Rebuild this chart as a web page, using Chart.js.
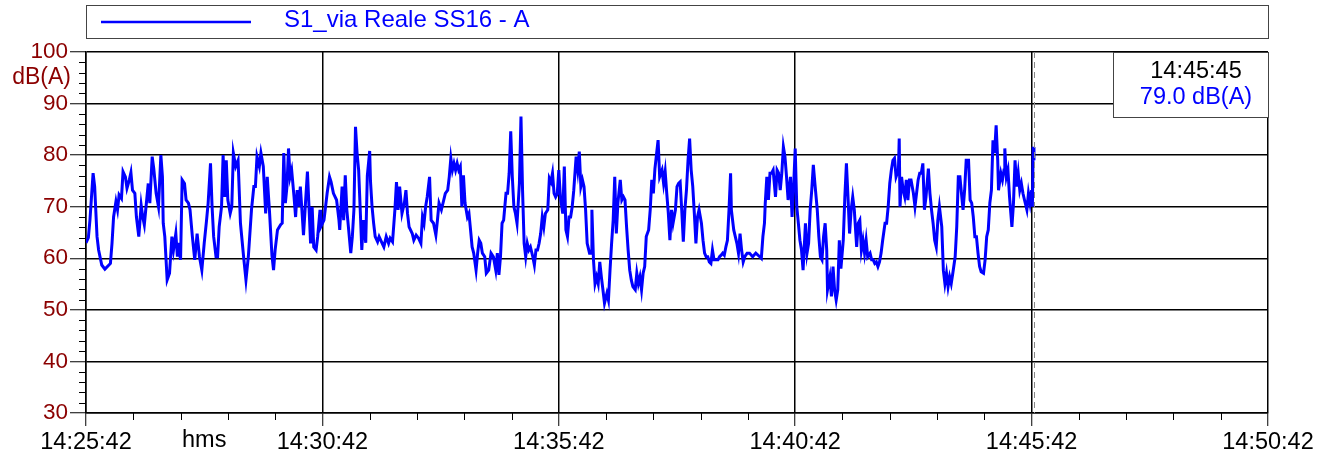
<!DOCTYPE html>
<html>
<head>
<meta charset="utf-8">
<script src="https://cdn.jsdelivr.net/npm/chart.js@4.4.0/dist/chart.umd.min.js"></script>
<style>
  html, body { margin: 0; padding: 0; background: #fff; }
  canvas { display: block; }
</style>
</head>
<body>
<canvas id="noiseChart" width="1326" height="457"></canvas>
<script>
// start of the record: 14:25:42
const startClock = 14 * 3600 + 25 * 60 + 42;
const seriesName = 'S1_via Reale SS16 - A';
const unit = 'dB(A)';
const xLabelUnit = 'hms';
const yMin = 30, yMax = 100;
const xSpan = 1500; // 25 minutes shown

// seconds after 14:25:42, level in dB(A)
const secs = [
  0, 3, 5, 9, 11, 14, 16, 20, 24, 31, 33, 35, 38, 40, 42, 45, 47, 50, 52, 55, 57, 59, 62, 64, 67, 70, 72, 74, 77, 79,
  81, 84, 86, 89, 92, 95, 97, 98, 100, 103, 106, 109, 111, 114, 116, 117, 120, 122, 125, 127, 130, 132, 135, 138, 141, 144, 147, 150, 153, 155,
  158, 160, 162, 165, 167, 169, 172, 174, 176, 178, 180, 183, 185, 187, 190, 193, 196, 200, 203, 206, 210, 213, 215, 217, 220, 222, 225, 228, 230, 233,
  236, 238, 240, 243, 247, 249, 251, 253, 255, 257, 259, 261, 264, 266, 268, 270, 272, 274, 276, 278, 281, 283, 285, 287, 289, 292, 294, 297, 298, 302,
  304, 306, 309, 311, 314, 318, 321, 322, 325, 327, 329, 331, 333, 336, 338, 340, 342, 344, 346, 348, 350, 352, 355, 357, 360, 361, 363, 365, 367, 370,
  372, 375, 378, 381, 384, 386, 389, 392, 394, 396, 398, 401, 404, 406, 408, 410, 414, 416, 419, 422, 425, 427, 429, 431, 433, 436, 438, 441, 444, 446,
  448, 451, 454, 456, 459, 461, 463, 465, 467, 469, 471, 473, 475, 477, 479, 481, 484, 486, 488, 490, 492, 495, 497, 499, 501, 503, 506, 508, 511, 514,
  517, 520, 522, 524, 526, 528, 530, 533, 535, 537, 539, 541, 543, 545, 547, 550, 552, 554, 556, 558, 560, 562, 564, 567, 569, 571, 573, 575, 577, 579,
  581, 583, 586, 588, 590, 592, 594, 596, 598, 600, 602, 605, 607, 609, 611, 613, 615, 617, 619, 622, 624, 626, 628, 630, 632, 634, 636, 639, 641, 642,
  644, 646, 648, 650, 652, 654, 656, 658, 661, 663, 665, 667, 669, 671, 673, 675, 678, 680, 682, 684, 686, 688, 690, 692, 694, 697, 699, 701, 703, 705,
  707, 709, 711, 714, 716, 718, 720, 722, 726, 728, 731, 733, 735, 737, 739, 741, 743, 745, 748, 750, 752, 754, 756, 758, 760, 762, 764, 766, 768, 770,
  772, 774, 776, 778, 781, 783, 785, 787, 789, 791, 793, 795, 797, 800, 802, 804, 806, 808, 810, 812, 814, 816, 818, 819, 822, 824, 826, 828, 830, 832,
  834, 836, 839, 842, 846, 850, 855, 857, 859, 861, 862, 864, 866, 868, 870, 872, 875, 877, 879, 881, 883, 885, 887, 889, 891, 894, 896, 898, 900, 902,
  904, 906, 908, 910, 913, 915, 917, 919, 921, 923, 925, 928, 930, 932, 934, 936, 938, 940, 941, 944, 946, 948, 950, 952, 954, 956, 958, 961, 963, 965,
  967, 969, 971, 973, 975, 978, 980, 982, 984, 986, 988, 990, 992, 995, 997, 999, 1001, 1003, 1005, 1007, 1009, 1011, 1014, 1016, 1018, 1020, 1022, 1024, 1026, 1028,
  1031, 1032, 1033, 1035, 1037, 1039, 1041, 1043, 1045, 1047, 1050, 1052, 1054, 1056, 1058, 1060, 1062, 1064, 1066, 1069, 1071, 1073, 1075, 1077, 1079, 1081, 1083, 1086, 1088, 1090,
  1092, 1094, 1096, 1098, 1100, 1103, 1105, 1107, 1109, 1111, 1113, 1115, 1117, 1120, 1122, 1124, 1126, 1128, 1130, 1132, 1134, 1136, 1139, 1141, 1143, 1145, 1147, 1149, 1151, 1153,
  1155, 1157, 1158, 1161, 1163, 1165, 1166, 1168, 1170, 1172, 1175, 1177, 1179, 1181, 1183, 1185, 1187, 1189, 1191, 1194, 1196, 1198, 1200, 1201, 1202, 1203
];
const dbA = [
  63.0, 64.0, 67.4, 76.5, 73.9, 64.2, 61.6, 58.7, 57.9, 59.0, 62.9, 68.0, 71.0, 69.4, 72.3, 71.6, 76.8, 75.8, 73.6, 75.2, 76.6, 73.2, 72.6, 68.0, 64.2, 70.3, 68.0, 66.5, 71.3, 74.5,
  70.7, 79.7, 77.4, 72.6, 70.0, 80.0, 75.8, 66.8, 64.2, 55.8, 57.1, 64.2, 61.6, 64.8, 60.3, 63.0, 59.7, 75.2, 74.5, 71.3, 70.7, 69.4, 64.2, 59.7, 64.8, 60.3, 57.7, 62.9, 67.4, 70.7,
  78.4, 70.0, 64.2, 60.3, 60.3, 66.1, 70.0, 80.0, 71.9, 79.0, 71.3, 68.7, 70.0, 80.4, 77.8, 79.0, 66.8, 60.3, 55.8, 60.3, 69.4, 73.9, 73.9, 79.7, 77.8, 80.4, 77.8, 68.7, 75.8, 68.7,
  60.5, 57.7, 61.6, 65.5, 66.5, 66.8, 80.4, 70.7, 73.9, 81.3, 75.8, 77.1, 71.9, 68.0, 73.2, 70.0, 73.9, 69.4, 64.5, 69.4, 76.8, 70.0, 62.9, 70.0, 62.2, 61.6, 64.2, 69.4, 66.1, 67.4,
  70.0, 72.6, 75.8, 74.8, 72.6, 71.3, 67.4, 65.5, 73.9, 67.4, 76.1, 69.4, 66.1, 61.0, 64.2, 69.4, 85.5, 80.4, 77.1, 69.4, 61.6, 67.4, 63.0, 76.0, 80.8, 75.0, 70.0, 66.8, 64.2, 63.2,
  64.2, 63.2, 62.2, 64.2, 62.9, 63.9, 63.2, 69.4, 74.8, 69.4, 73.9, 68.7, 70.7, 73.2, 68.7, 66.1, 64.8, 63.5, 64.5, 63.9, 62.9, 68.0, 66.8, 70.0, 71.9, 75.8, 67.4, 66.8, 64.5, 67.4,
  70.7, 69.4, 71.3, 72.6, 73.2, 75.8, 79.4, 77.1, 78.4, 77.1, 78.4, 77.1, 77.8, 70.0, 76.1, 70.7, 68.0, 68.7, 65.5, 62.2, 61.0, 57.7, 61.0, 63.5, 62.9, 61.0, 60.3, 57.1, 57.7, 61.0,
  60.3, 57.7, 61.0, 56.8, 60.3, 66.8, 67.4, 72.6, 72.6, 76.5, 84.6, 75.8, 70.0, 68.7, 66.8, 74.5, 87.5, 73.2, 62.9, 60.3, 62.9, 61.6, 62.2, 60.3, 58.7, 61.6, 61.6, 62.9, 64.8, 68.0,
  66.1, 68.7, 69.4, 75.5, 74.8, 76.5, 72.6, 71.9, 72.5, 77.1, 71.9, 68.7, 77.8, 65.5, 64.2, 68.0, 68.0, 70.0, 73.2, 79.7, 77.1, 80.7, 73.9, 75.2, 73.9, 69.4, 62.9, 61.0, 61.0, 69.4,
  59.7, 55.1, 56.4, 55.1, 59.3, 56.4, 53.9, 51.3, 53.2, 51.9, 57.7, 62.9, 67.4, 75.8, 64.8, 70.7, 75.2, 71.3, 71.9, 71.3, 66.1, 61.6, 57.7, 55.8, 54.5, 53.9, 57.1, 55.1, 56.4, 53.9,
  57.1, 58.4, 64.2, 65.5, 69.4, 75.2, 72.6, 77.4, 82.9, 75.8, 77.1, 74.5, 76.8, 72.6, 68.7, 63.5, 69.4, 66.8, 69.4, 73.9, 74.5, 74.8, 69.4, 63.2, 69.4, 73.2, 79.0, 83.2, 77.1, 73.9,
  68.7, 62.9, 68.0, 69.4, 66.8, 63.5, 61.0, 60.3, 60.3, 59.3, 59.0, 61.6, 59.7, 59.7, 59.7, 60.3, 60.6, 61.0, 60.6, 62.2, 63.5, 69.4, 76.5, 69.4, 65.5, 64.2, 62.9, 61.0, 64.8, 61.6,
  59.3, 60.3, 61.0, 61.0, 60.3, 61.0, 60.3, 60.0, 64.2, 66.8, 70.7, 75.8, 71.3, 76.5, 76.5, 77.1, 71.9, 77.1, 76.5, 73.2, 76.5, 81.6, 79.7, 75.8, 71.3, 75.8, 68.0, 73.9, 81.3, 70.0,
  66.8, 63.5, 61.6, 57.7, 66.8, 61.0, 62.9, 69.4, 73.2, 78.1, 74.5, 69.4, 64.2, 60.3, 59.7, 64.2, 66.8, 61.6, 53.9, 56.4, 52.6, 58.4, 53.9, 51.9, 53.9, 63.5, 58.0, 63.5, 71.9, 78.4,
  71.9, 64.8, 69.4, 71.9, 69.4, 62.2, 66.8, 67.4, 61.6, 63.5, 61.0, 63.5, 60.3, 61.0, 59.7, 59.7, 59.0, 59.3, 58.4, 59.3, 61.0, 63.5, 66.8, 66.8, 70.0, 74.5, 77.1, 79.0, 79.4, 75.8,
  77.1, 83.2, 70.0, 75.8, 73.2, 71.9, 75.2, 71.3, 75.2, 75.2, 72.6, 70.0, 72.6, 75.2, 76.5, 76.5, 78.4, 69.4, 71.9, 77.4, 72.6, 69.4, 66.8, 63.5, 62.2, 67.4, 70.0, 66.1, 57.7, 55.1,
  57.1, 54.5, 56.4, 55.1, 57.1, 60.3, 66.1, 75.8, 75.8, 72.6, 69.4, 73.2, 79.0, 79.0, 71.3, 70.7, 68.0, 64.2, 64.2, 61.0, 58.4, 57.4, 57.1, 59.7, 64.2, 65.5, 70.7, 73.2, 82.9, 80.4,
  85.8, 79.0, 73.2, 76.5, 75.2, 77.1, 81.3, 75.8, 77.1, 71.9, 66.1, 70.7, 79.0, 73.9, 76.5, 73.2, 74.5, 72.6, 71.3, 69.4, 72.6, 70.7, 73.2, 70.0, 81.6, 79.0
];

function clock(t) {
  const s = startClock + Math.round(t);
  const p = n => String(n).padStart(2, '0');
  return p(Math.floor(s / 3600)) + ':' + p(Math.floor(s / 60) % 60) + ':' + p(s % 60);
}

const fontFamily = '"Liberation Sans", Arial, sans-serif';
Chart.defaults.font.family = fontFamily;

const extras = {
  id: 'extras',
  afterDraw(chart) {
    const { ctx, chartArea: a, scales: { x, y } } = chart;
    const last = secs.length - 1;
    ctx.save();

    // minor ticks
    ctx.strokeStyle = '#000';
    ctx.lineWidth = 1;
    ctx.beginPath();
    for (let v = yMin; v <= yMax; v += 2) {
      if (v % 10 === 0) continue;
      const py = Math.round(y.getPixelForValue(v)) + 0.5;
      ctx.moveTo(a.left - 7, py); ctx.lineTo(a.left, py);
    }
    for (let t = 60; t < xSpan; t += 60) {
      if (t % 300 === 0) continue;
      const px = Math.round(x.getPixelForValue(t)) + 0.5;
      ctx.moveTo(px, a.bottom); ctx.lineTo(px, a.bottom + 7);
    }
    ctx.stroke();

    // unit under 100
    ctx.font = '23px ' + fontFamily;
    ctx.fillStyle = '#8b0000';
    ctx.textAlign = 'right';
    ctx.textBaseline = 'middle';
    ctx.fillText(unit, a.left - 15, y.getPixelForValue(95));

    // hms under the axis
    ctx.font = '23.5px ' + fontFamily;
    ctx.fillStyle = '#000';
    ctx.textAlign = 'center';
    ctx.fillText(xLabelUnit, x.getPixelForValue(150), a.bottom + 28);

    // cursor
    const cx = Math.round(x.getPixelForValue(secs[last])) + 0.5;
    ctx.strokeStyle = '#888';
    ctx.lineWidth = 1;
    ctx.setLineDash([6, 4]);
    ctx.beginPath();
    ctx.moveTo(cx, a.top); ctx.lineTo(cx, a.bottom);
    ctx.stroke();
    ctx.setLineDash([]);

    // legend box
    ctx.strokeStyle = '#444';
    ctx.lineWidth = 1;
    ctx.strokeRect(a.left + 0.5, 5.5, a.right - a.left, 33);
    ctx.strokeStyle = '#0000ff';
    ctx.lineWidth = 2.5;
    ctx.beginPath();
    ctx.moveTo(a.left + 15, 22); ctx.lineTo(a.left + 165, 22);
    ctx.stroke();
    ctx.font = '24px ' + fontFamily;
    ctx.fillStyle = '#0000ff';
    ctx.textAlign = 'left';
    ctx.fillText(seriesName, a.left + 198, 20);

    // readout box
    const bx = a.right - 155, by = a.top, bw = 155, bh = 65;
    ctx.fillStyle = '#fff';
    ctx.fillRect(bx, by, bw, bh);
    ctx.strokeStyle = '#444';
    ctx.lineWidth = 1;
    ctx.strokeRect(bx + 0.5, by + 0.5, bw, bh);
    ctx.font = '23.5px ' + fontFamily;
    ctx.textAlign = 'center';
    ctx.fillStyle = '#000';
    ctx.fillText(clock(secs[last]), bx + 83, by + 20);
    ctx.fillStyle = '#0000ff';
    ctx.fillText(dbA[last].toFixed(1) + ' ' + unit, bx + 83, by + 46);

    ctx.restore();
  }
};

new Chart(document.getElementById('noiseChart'), {
  type: 'line',
  data: {
    datasets: [{
      label: seriesName,
      data: secs.map((t, i) => ({ x: t, y: dbA[i] })),
      borderColor: '#0000ff',
      borderWidth: 3,
      pointRadius: 0,
      tension: 0,
      fill: false
    }]
  },
  options: {
    responsive: false,
    animation: false,
    devicePixelRatio: 1,
    layout: { padding: { top: 52, right: 58, left: 0, bottom: 0 } },
    plugins: { legend: { display: false }, tooltip: { enabled: false } },
    scales: {
      x: {
        type: 'linear',
        min: 0,
        max: xSpan,
        afterFit: s => { s.height = 44; },
        ticks: {
          stepSize: 300,
          autoSkip: false,
          maxRotation: 0,
          padding: 2,
          color: '#000',
          font: { size: 23.5 },
          callback: v => clock(v)
        },
        grid: { color: '#000', lineWidth: 1.5, tickLength: 13, tickColor: '#000', tickWidth: 1 },
        border: { color: '#000', width: 1.5 }
      },
      y: {
        min: yMin,
        max: yMax,
        afterFit: s => { s.width = 86; },
        ticks: { stepSize: 10, padding: 2, color: '#8b0000', font: { size: 22.5 } },
        grid: { color: '#000', lineWidth: 1.5, tickLength: 16, tickColor: '#000', tickWidth: 1 },
        border: { color: '#000', width: 1.5 }
      }
    }
  },
  plugins: [extras]
});
</script>
</body>
</html>
